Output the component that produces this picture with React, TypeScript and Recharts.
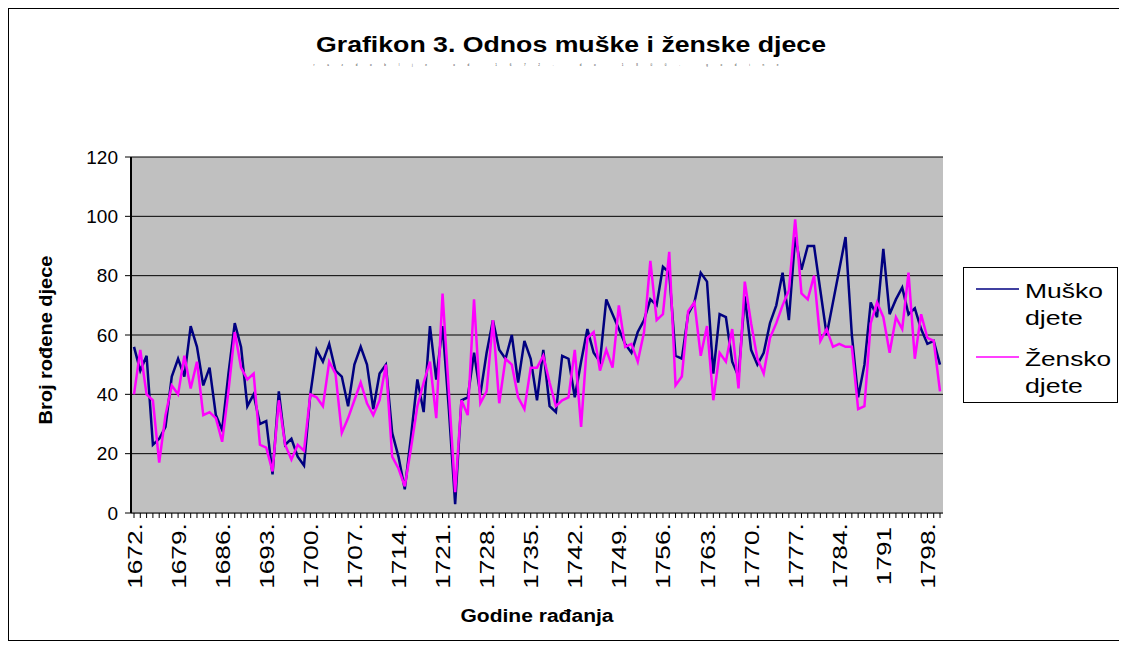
import React from 'react';
import { LineChart, Line, XAxis, YAxis, CartesianGrid, Legend } from 'recharts';

// godine 1672.–1800. (oznaka 1791 je u izvorniku bez točke)
const years = Array.from({ length: 129 }, (_, i) => 1672 + i);
const yearLabels = years.map((y) => (y === 1791 ? String(y) : `${y}.`));

const musko = [
  56, 48, 53, 23, 25, 29, 46, 52, 46, 63,
  56, 43, 49, 33, 28, 47, 64, 56, 36, 40,
  30, 31, 13, 41, 23, 25, 19, 16, 40, 55,
  51, 57, 48, 46, 36, 50, 56, 50, 35, 47,
  50, 27, 19, 8, 26, 45, 34, 63, 45, 63,
  35, 3, 38, 39, 54, 40, 54, 65, 55, 52,
  60, 44, 58, 52, 38, 55, 36, 34, 53, 52,
  39, 51, 62, 54, 51, 72, 67, 62, 57, 54,
  61, 65, 72, 70, 83, 81, 53, 52, 67, 71,
  81, 78, 47, 67, 66, 51, 46, 73, 55, 50,
  54, 64, 70, 81, 65, 93, 82, 90, 90, 75,
  60, 71, 82, 93, 60, 39, 50, 71, 66, 89,
  67, 72, 76, 67, 69, 62, 57, 58, 50,
];

const zensko = [
  40, 55, 40, 38, 17, 33, 43, 40, 53, 42,
  51, 33, 34, 32, 24, 41, 61, 49, 45, 47,
  23, 22, 14, 38, 23, 18, 23, 21, 40, 39,
  36, 51, 47, 27, 32, 38, 44, 37, 33, 38,
  50, 19, 15, 9, 22, 36, 44, 51, 32, 74,
  41, 7, 38, 33, 72, 37, 41, 65, 37, 52,
  50, 39, 35, 49, 49, 53, 44, 36, 38, 39,
  55, 29, 59, 61, 48, 55, 49, 70, 56, 57,
  51, 61, 85, 65, 67, 88, 43, 46, 68, 71,
  53, 63, 38, 54, 51, 62, 42, 78, 64, 52,
  47, 59, 64, 70, 75, 99, 74, 72, 80, 58,
  62, 56, 57, 56, 56, 35, 36, 64, 71, 66,
  54, 66, 62, 81, 52, 67, 59, 58, 41,
];

const yTicks = [0, 20, 40, 60, 80, 100, 120];

const data = yearLabels.map((label, i) => ({ label, musko: musko[i], zensko: zensko[i] }));

const FONT = '"Liberation Sans", Arial, sans-serif';

function YearTick(props: any) {
  const { x, y, index, payload } = props;
  if (index % 7 !== 0) return <g />;
  return (
    <text
      transform={`translate(${x},${y + 36}) rotate(-90) scale(1.25,1)`}
      textAnchor="middle"
      dominantBaseline="central"
      fontSize={21}
      fontFamily={FONT}
      fill="#000"
    >
      {payload.value}
    </text>
  );
}

function LegendBox(props: any) {
  const items = props.payload || [];
  const rows = [
    { line: 21, t1: 30, t2: 57, w1: 78, w2: 58 },
    { line: 89, t1: 98, t2: 125, w1: 86, w2: 58 },
  ];
  return (
    <div style={{ width: 155, height: 136, border: '1px solid #000', boxSizing: 'border-box', background: '#fff' }}>
      <svg width={153} height={134}>
        {items.map((it: any, i: number) => {
          const r = rows[i];
          const [a, b] = String(it.value).split(' ');
          return (
            <g key={i}>
              <line x1={12} x2={55} y1={r.line} y2={r.line} stroke={it.color} strokeWidth={1.5} />
              <text x={61} y={r.t1} fontSize={21} fontFamily={FONT} textLength={r.w1} lengthAdjust="spacingAndGlyphs">{a}</text>
              <text x={61} y={r.t2} fontSize={21} fontFamily={FONT} textLength={r.w2} lengthAdjust="spacingAndGlyphs">{b}</text>
            </g>
          );
        })}
      </svg>
    </div>
  );
}

export default function App() {
  return (
    <div style={{ position: 'relative', width: 1112, height: 633, border: '1px solid #000', boxSizing: 'border-box', background: '#fff' }}>
      <LineChart width={1110} height={631} data={data} margin={{ top: 148, right: 176, bottom: 47, left: 62 }}>
        <CartesianGrid vertical={false} stroke="#000" fill="#C0C0C0" fillOpacity={1} />
        <XAxis
          dataKey="label"
          interval={0}
          height={80}
          padding={{ left: 3, right: 3 }}
          tick={<YearTick />}
          tickSize={5}
          tickLine={{ stroke: '#000' }}
          axisLine={{ stroke: '#606060', strokeWidth: 2 }}
        />
        <XAxis xAxisId="top" dataKey="label" orientation="top" height={0} tick={false} tickLine={false} axisLine={{ stroke: '#808080', strokeWidth: 2 }} />
        <YAxis
          domain={[0, 120]}
          ticks={yTicks}
          width={60}
          tickSize={6}
          tickMargin={7}
          tick={{ fill: '#000', fontSize: 19, fontFamily: FONT }}
          tickLine={{ stroke: '#000' }}
          axisLine={{ stroke: '#000', strokeWidth: 2 }}
        />
        <YAxis yAxisId="r" orientation="right" domain={[0, 120]} width={0} tick={false} tickLine={false} axisLine={{ stroke: '#808080', strokeWidth: 2 }} />
        <Line type="linear" dataKey="musko" name="Muško djete" stroke="#000080" strokeWidth={2.5} dot={false} isAnimationActive={false} />
        <Line type="linear" dataKey="zensko" name="Žensko djete" stroke="#FF00FF" strokeWidth={2.5} dot={false} isAnimationActive={false} />
        <Legend layout="vertical" align="center" verticalAlign="middle" content={<LegendBox />} wrapperStyle={{ left: 954, top: 258, width: 155, height: 136 }} />
      </LineChart>
      <svg width={1110} height={631} style={{ position: 'absolute', left: 0, top: 0, pointerEvents: 'none' }}>
        <text x={562} y={43} textAnchor="middle" fontSize={22} fontWeight="bold" fontFamily={FONT} textLength={510} lengthAdjust="spacingAndGlyphs">
          Grafikon 3. Odnos muške i ženske djece
        </text>
        <text x={537} y={57} textAnchor="middle" fontSize={3} fontFamily={FONT} fill="#333" textLength={465} lengthAdjust="spacing">
          razdoblje od 1672. do 1800. godine
        </text>
        <text transform="translate(37,331) rotate(-90)" textAnchor="middle" dominantBaseline="central" fontSize={18} fontWeight="bold" fontFamily={FONT} textLength={169} lengthAdjust="spacingAndGlyphs">
          Broj rođene djece
        </text>
        <text x={528} y={613} textAnchor="middle" fontSize={18} fontWeight="bold" fontFamily={FONT} textLength={153} lengthAdjust="spacingAndGlyphs">
          Godine rađanja
        </text>
      </svg>
    </div>
  );
}
